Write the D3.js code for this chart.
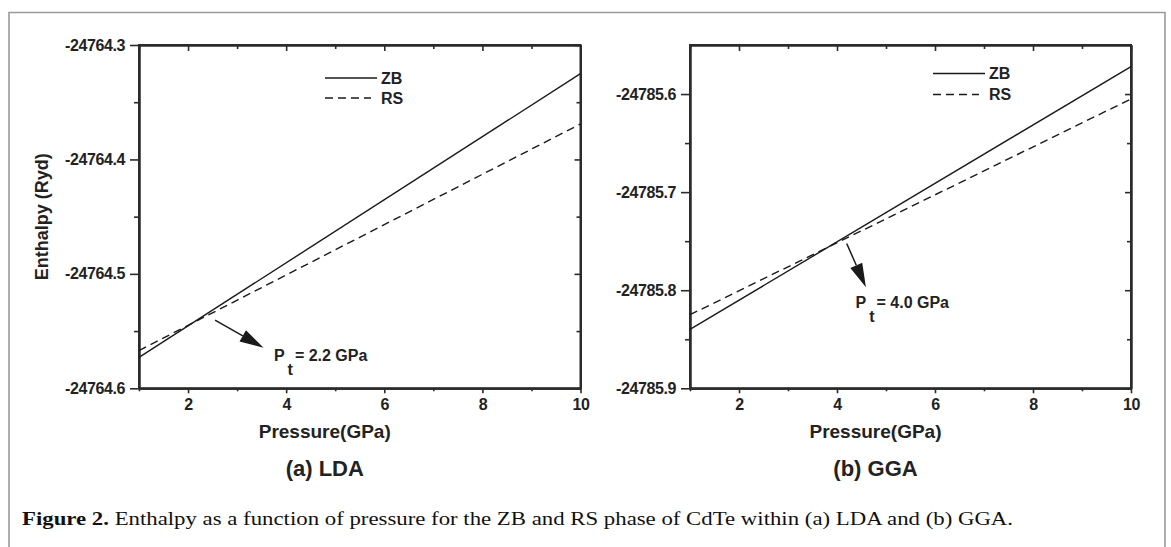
<!DOCTYPE html>
<html>
<head>
<meta charset="utf-8">
<script src="https://cdn.jsdelivr.net/npm/d3@7"></script>
<style>
  html, body { margin: 0; padding: 0; background: #fff; }
  svg { display: block; }
</style>
</head>
<body>
<svg id="chart" width="1171" height="547"></svg>
<script>
// ---------- data ----------
const pressure = [1, 10];                        // GPa, end points of each straight line
const ldaZB = [-24764.573, -24764.325];
const ldaRS = [-24764.567, -24764.369];
const ggaZB = [-24785.840, -24785.572];
const ggaRS = [-24785.825, -24785.605];

const xDomain = [1, 10];
const xMajorTicks = [2, 4, 6, 8, 10];
const xMinorTicks = [1, 3, 5, 7, 9];
const ldaYDomain = [-24764.6, -24764.3];
const ldaYMajor = [-24764.6, -24764.5, -24764.4, -24764.3];
const ldaYMinor = [-24764.55, -24764.45, -24764.35];
const ggaYDomain = [-24785.9, -24785.55];
const ggaYMajor = [-24785.9, -24785.8, -24785.7, -24785.6];
const ggaYMinor = [-24785.85, -24785.75, -24785.65];

const seriesNames = ["ZB", "RS"];
const panelLabels = ["(a) LDA", "(b) GGA"];
// transition-pressure annotations: [arrow start P, arrow start H, arrow tip P, arrow tip H, label P, label H]
const ldaArrow = [2.55, -24764.5404, 3.54, -24764.5646, 3.75, -24764.576];
const ggaArrow = [4.198, -24785.7523, 4.59, -24785.797, 4.378, -24785.8184];
const ptLabels = ["= 2.2 GPa", "= 4.0 GPa"];

const xTitle = "Pressure(GPa)";
const yTitle = "Enthalpy (Ryd)";
const captionBold = "Figure 2.";
const captionText = " Enthalpy as a function of pressure for the ZB and RS phase of CdTe within (a) LDA and (b) GGA.";

// ---------- drawing ----------
const svg = d3.select("#chart");
const FONT = "'Liberation Sans', Arial, Helvetica, sans-serif";
const AX = "#2b2b2b";
const INK = "#1a1a1a";

// outer frame
svg.append("path")
  .attr("d", "M9,560 L9,12.5 L1165,12.5 L1165,560")
  .attr("fill", "none").attr("stroke", "#9a9a9a").attr("stroke-width", 1.6);

const panels = [
  { left: 139, right: 580.5, top: 45, bottom: 388.3, yDomain: ldaYDomain, yMajor: ldaYMajor, yMinor: ldaYMinor,
    zb: ldaZB, rs: ldaRS, arrow: ldaArrow, pt: ptLabels[0], label: panelLabels[0],
    legendX: 325, legendY: [78, 98], yTitle: true },
  { left: 690, right: 1131, top: 45, bottom: 388.3, yDomain: ggaYDomain, yMajor: ggaYMajor, yMinor: ggaYMinor,
    zb: ggaZB, rs: ggaRS, arrow: ggaArrow, pt: ptLabels[1], label: panelLabels[1],
    legendX: 933, legendY: [73.5, 94.5], yTitle: false }
];

panels.forEach(p => {
  const x = d3.scaleLinear().domain(xDomain).range([p.left, p.right]);
  const y = d3.scaleLinear().domain(p.yDomain).range([p.bottom, p.top]);
  const g = svg.append("g");

  const fmtY = d => d3.format(".1f")(d).replace("\u2212", "-");
  const fmtX = d => d3.format("d")(d);

  // bottom: major ticks outward with labels
  g.append("g").attr("transform", `translate(0,${p.bottom})`)
    .call(d3.axisBottom(x).tickValues(xMajorTicks).tickSize(5).tickSizeOuter(0).tickPadding(5).tickFormat(fmtX));
  g.append("g").attr("transform", `translate(0,${p.bottom})`)
    .call(d3.axisBottom(x).tickValues(xMinorTicks).tickSize(3).tickSizeOuter(0).tickFormat(""));
  // top: inward ticks
  g.append("g").attr("transform", `translate(0,${p.top})`)
    .call(d3.axisBottom(x).tickValues(xMajorTicks).tickSize(6).tickSizeOuter(0).tickFormat(""));
  g.append("g").attr("transform", `translate(0,${p.top})`)
    .call(d3.axisBottom(x).tickValues(xMinorTicks).tickSize(4).tickSizeOuter(0).tickFormat(""));
  // left: outward ticks with labels
  g.append("g").attr("transform", `translate(${p.left},0)`)
    .call(d3.axisLeft(y).tickValues(p.yMajor).tickSize(9).tickSizeOuter(0).tickPadding(5).tickFormat(fmtY));
  g.append("g").attr("transform", `translate(${p.left},0)`)
    .call(d3.axisLeft(y).tickValues(p.yMinor).tickSize(5).tickSizeOuter(0).tickFormat(""));
  // right: inward ticks
  g.append("g").attr("transform", `translate(${p.right},0)`)
    .call(d3.axisLeft(y).tickValues(p.yMajor).tickSize(6).tickSizeOuter(0).tickFormat(""));
  g.append("g").attr("transform", `translate(${p.right},0)`)
    .call(d3.axisLeft(y).tickValues(p.yMinor).tickSize(4).tickSizeOuter(0).tickFormat(""));

  g.selectAll(".domain").attr("stroke", AX).attr("stroke-width", 2);
  g.selectAll(".tick line").attr("stroke", AX).attr("stroke-width", 1.6);
  g.selectAll(".tick text")
    .attr("font-family", FONT).attr("font-weight", "bold").attr("font-size", 16)
    .attr("letter-spacing", -0.4).attr("fill", "#222");
  g.append("rect").attr("x", p.left).attr("y", p.top).attr("width", p.right - p.left).attr("height", p.bottom - p.top)
    .attr("fill", "none").attr("stroke", AX).attr("stroke-width", 2);

  // lines
  const line = d3.line().x(d => x(d[0])).y(d => y(d[1]));
  g.append("path").datum(pressure.map((v, i) => [v, p.zb[i]]))
    .attr("d", line).attr("fill", "none").attr("stroke", INK).attr("stroke-width", 1.4);
  g.append("path").datum(pressure.map((v, i) => [v, p.rs[i]]))
    .attr("d", line).attr("fill", "none").attr("stroke", INK).attr("stroke-width", 1.4)
    .attr("stroke-dasharray", "8,5");

  // legend
  const lg = g.append("g");
  lg.append("line").attr("x1", p.legendX).attr("x2", p.legendX + 52)
    .attr("y1", p.legendY[0]).attr("y2", p.legendY[0]).attr("stroke", INK).attr("stroke-width", 1.4);
  lg.append("line").attr("x1", p.legendX).attr("x2", p.legendX + 46)
    .attr("y1", p.legendY[1]).attr("y2", p.legendY[1]).attr("stroke", INK).attr("stroke-width", 1.4)
    .attr("stroke-dasharray", "8,5");
  seriesNames.forEach((n, i) => {
    lg.append("text").attr("x", p.legendX + 56).attr("y", p.legendY[i]).attr("dy", "0.36em")
      .attr("font-family", FONT).attr("font-weight", "bold").attr("font-size", 16).attr("fill", "#222").text(n);
  });

  // annotation arrow
  const a = p.arrow;
  const x0 = x(a[0]), y0 = y(a[1]), x1 = x(a[2]), y1 = y(a[3]);
  const ang = Math.atan2(y1 - y0, x1 - x0);
  const hl = 24, hw = 6.5;
  const bxp = x1 - hl * Math.cos(ang), byp = y1 - hl * Math.sin(ang);
  g.append("line").attr("x1", x0).attr("y1", y0).attr("x2", bxp).attr("y2", byp)
    .attr("stroke", INK).attr("stroke-width", 1.5);
  g.append("polygon")
    .attr("points", [
      [x1, y1],
      [bxp + hw * Math.sin(ang), byp - hw * Math.cos(ang)],
      [bxp - hw * Math.sin(ang), byp + hw * Math.cos(ang)]
    ].map(q => q.join(",")).join(" "))
    .attr("fill", INK);
  const lx = x(a[4]), ly = y(a[5]);
  const t = g.append("text").attr("x", lx).attr("y", ly)
    .attr("font-family", FONT).attr("font-weight", "bold").attr("font-size", 16).attr("fill", "#222");
  t.append("tspan").text("P");
  t.append("tspan").attr("dy", 14).attr("dx", 3).text("t");
  t.append("tspan").attr("dy", -14).attr("dx", 2).text(p.pt);

  // titles
  const cx = (p.left + p.right) / 2 - 35;
  g.append("text").attr("x", cx).attr("y", 438).attr("text-anchor", "middle")
    .attr("font-family", FONT).attr("font-weight", "bold").attr("font-size", 19).attr("fill", "#222").text(xTitle);
  g.append("text").attr("x", cx).attr("y", 476).attr("text-anchor", "middle")
    .attr("font-family", FONT).attr("font-weight", "bold").attr("font-size", 22).attr("fill", "#222").text(p.label);
  if (p.yTitle) {
    g.append("text").attr("transform", `translate(48,${(p.top + p.bottom) / 2}) rotate(-90)`)
      .attr("text-anchor", "middle")
      .attr("font-family", FONT).attr("font-weight", "bold").attr("font-size", 18).attr("fill", "#222").text(yTitle);
  }
});

// caption
const cap = svg.append("text").attr("x", 22).attr("y", 525)
  .attr("font-family", "'Liberation Serif', 'Times New Roman', serif").attr("font-size", 19).attr("fill", "#111")
  .attr("textLength", 991).attr("lengthAdjust", "spacingAndGlyphs");
cap.append("tspan").attr("font-weight", "bold").text(captionBold);
cap.append("tspan").text(captionText);
</script>
</body>
</html>
